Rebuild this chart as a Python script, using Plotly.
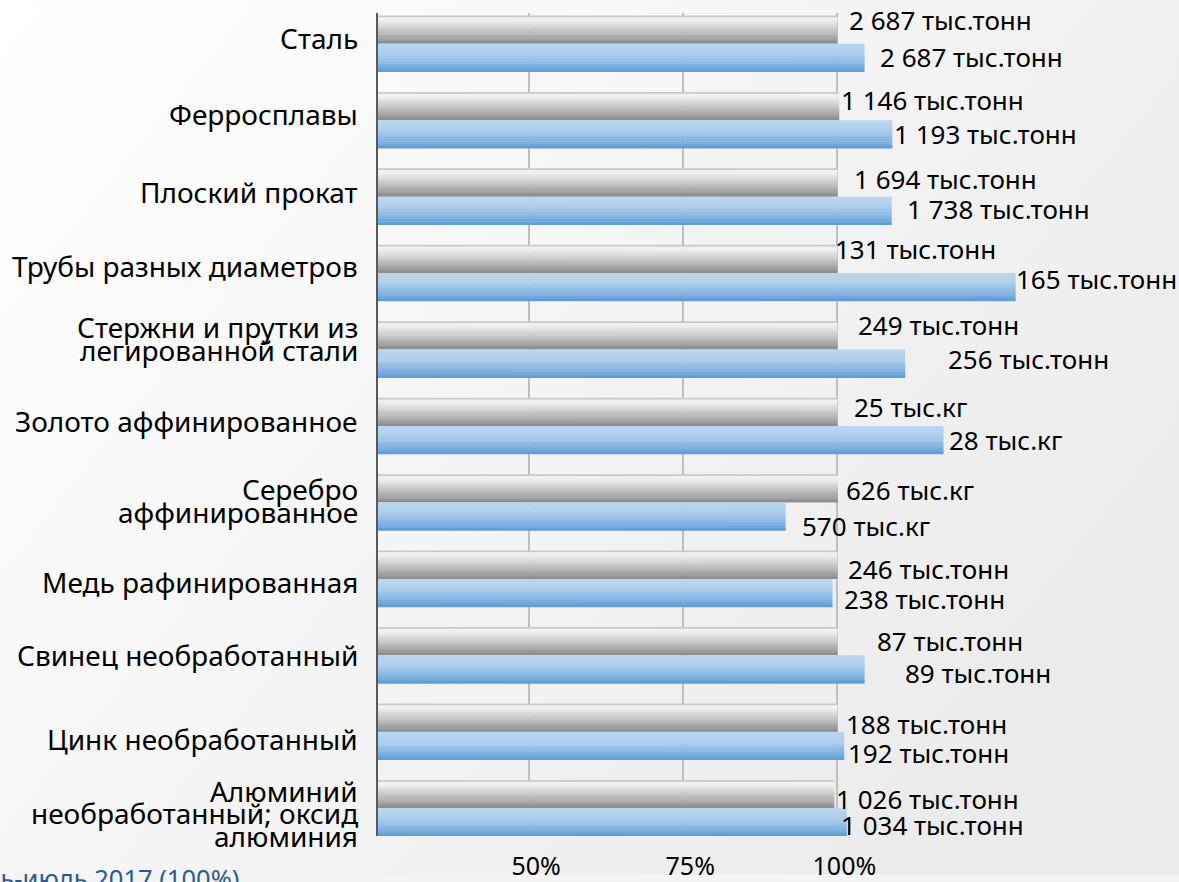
import base64
import plotly.graph_objects as go

# ---------------- data ----------------
categories = [
    "Сталь",
    "Ферросплавы",
    "Плоский прокат",
    "Трубы разных диаметров",
    "Стержни и прутки из\nлегированной стали",
    "Золото аффинированное",
    "Серебро\nаффинированное",
    "Медь рафинированная",
    "Свинец необработанный",
    "Цинк необработанный",
    "Алюминий\nнеобработанный; оксид\nалюминия",
]
series_names = ["январь-июль 2017 (100%)", "январь-июль 2018"]
base_pct = [100.0, 100.3, 100.0, 100.0, 100.0, 100.0, 100.1, 100.0, 100.0, 100.0, 99.5]
curr_pct = [104.4, 108.9, 108.8, 128.9, 111.0, 117.2, 91.6, 99.2, 104.4, 101.1, 101.5]
base_labels = ["2 687 тыс.тонн", "1 146 тыс.тонн", "1 694 тыс.тонн", "131 тыс.тонн",
               "249 тыс.тонн", "25 тыс.кг", "626 тыс.кг", "246 тыс.тонн",
               "87 тыс.тонн", "188 тыс.тонн", "1 026 тыс.тонн"]
curr_labels = ["2 687 тыс.тонн", "1 193 тыс.тонн", "1 738 тыс.тонн", "165 тыс.тонн",
               "256 тыс.тонн", "28 тыс.кг", "570 тыс.кг", "238 тыс.тонн",
               "89 тыс.тонн", "192 тыс.тонн", "1 034 тыс.тонн"]
tick_vals = [50, 75, 100]
tick_text = ["50%", "75%", "100%"]

# ---------------- style ----------------
W, H = 1179, 882
ML, MR, MT, MB = 378, 0, 13, 39
PW, PH = W - ML - MR, H - MT - MB
X_RANGE = [25.5, 155.4]
Y_RANGE = [10.363, -0.402]
BAR_W = 0.37
N_STRIPES = 16
FONT = "Noto Sans"
VAL_SIZE = 26
CAT_SIZE = 28

# label nudges (px), as placed in the original slide
base_dx = [10, 0, 15, -4, 19, 15, 6, 9, 38, 7, 0]
base_dy = [-10, -6, -3, -10, -10, -5, 2, 4, 0, 6, 5]
curr_dx = [13, 0, 13, -2, 41, 4, 14, 10, 38, 2, -8]
curr_dy = [-1, 0, -2, -8, -5, 0, 9, 6, 4, 7, 3]
cat_dy = [-6, -6, -5, -7, -11, -5, -2, 3, 0, 7, 5]
CAT_LINE = 22.5

gray_stops = [(0.0, (168, 168, 168)), (0.07, (242, 242, 242)), (0.18, (238, 238, 238)),
              (0.55, (196, 196, 196)), (1.0, (138, 138, 138))]
blue_stops = [(0.0, (186, 214, 239)), (0.35, (174, 206, 236)), (0.7, (134, 182, 227)),
              (1.0, (90, 155, 213))]


def interp(stops, t):
    for (t0, c0), (t1, c1) in zip(stops[:-1], stops[1:]):
        if t0 <= t <= t1:
            f = (t - t0) / (t1 - t0) if t1 > t0 else 0
            c = [round(a + (b - a) * f) for a, b in zip(c0, c1)]
            return "rgb(%d,%d,%d)" % tuple(c)
    return "rgb(%d,%d,%d)" % stops[-1][1]


ycats = [c.replace("\n", " ") for c in categories]

fig = go.Figure()

for series, vals, stops, start in [
    (0, base_pct, gray_stops, -BAR_W),
    (1, curr_pct, blue_stops, 0.0),
]:
    step = BAR_W / N_STRIPES
    for k in range(N_STRIPES):
        t = (k + 0.5) / N_STRIPES
        w = step * 1.25 if k < N_STRIPES - 1 else step
        fig.add_trace(go.Bar(
            y=ycats, x=vals, orientation="h",
            offset=start + k * step, width=w,
            marker=dict(color=interp(stops, t), line=dict(width=0)),
            name=series_names[series], showlegend=False, hoverinfo="skip",
        ))

annotations = []
# value labels
for i in range(len(categories)):
    annotations.append(dict(
        x=base_pct[i], y=i - BAR_W / 2, xref="x", yref="y", text=base_labels[i],
        showarrow=False, xanchor="left", yanchor="middle",
        xshift=base_dx[i], yshift=-base_dy[i],
        font=dict(family=FONT, size=VAL_SIZE, color="#000000")))
    annotations.append(dict(
        x=curr_pct[i], y=i + BAR_W / 2, xref="x", yref="y", text=curr_labels[i],
        showarrow=False, xanchor="left", yanchor="middle",
        xshift=curr_dx[i], yshift=-curr_dy[i],
        font=dict(family=FONT, size=VAL_SIZE, color="#000000")))

# category labels (tight line spacing)
for i, c in enumerate(categories):
    lines = c.split("\n")
    n = len(lines)
    for k, ln in enumerate(lines):
        off = (k - (n - 1) / 2) * CAT_LINE + cat_dy[i]
        annotations.append(dict(
            x=0, y=i, xref="paper", yref="y", text=ln, showarrow=False,
            xanchor="right", yanchor="middle", xshift=-18, yshift=-off,
            font=dict(family=FONT, size=CAT_SIZE, color="#000000")))

# legend remnant (cropped in original)
annotations.append(dict(
    x=(241 - ML) / PW, y=1 - (885 - MT) / PH, xref="paper", yref="paper",
    text=series_names[0], showarrow=False, xanchor="right", yanchor="middle",
    font=dict(family=FONT, size=25.5, color="#2b5d8c")))

svg = ('<svg xmlns="http://www.w3.org/2000/svg" width="%d" height="%d">'
       '<defs><linearGradient id="g" x1="0" y1="0" x2="1" y2="0.6">'
       '<stop offset="0" stop-color="#ffffff"/><stop offset="0.35" stop-color="#f8f8f8"/>'
       '<stop offset="1" stop-color="#ebebeb"/></linearGradient></defs>'
       '<rect width="%d" height="%d" fill="url(#g)"/></svg>') % (W, H, W, H)
bg_src = "data:image/svg+xml;base64," + base64.b64encode(svg.encode()).decode()

fig.update_layout(
    width=W, height=H,
    margin=dict(l=ML, r=MR, t=MT, b=MB, pad=0),
    barmode="overlay",
    paper_bgcolor="#f4f4f4",
    plot_bgcolor="rgba(0,0,0,0)",
    showlegend=False,
    hovermode=False,
    annotations=annotations,
    images=[dict(source=bg_src, xref="paper", yref="paper",
                 x=-ML / PW, y=1 + MT / PH, sizex=W / PW, sizey=H / PH,
                 xanchor="left", yanchor="top", sizing="stretch", layer="below")],
    xaxis=dict(range=X_RANGE, tickvals=tick_vals, ticktext=tick_text,
               showgrid=True, gridcolor="#bfbfbf", gridwidth=1.5,
               zeroline=False, showline=False,
               ticks="outside", ticklen=8, tickcolor="rgba(0,0,0,0)",
               ticklabelshift=7,
               tickfont=dict(family=FONT, size=25, color="#000000")),
    yaxis=dict(type="category", categoryorder="array", categoryarray=ycats,
               range=Y_RANGE, showticklabels=False, showgrid=False,
               zeroline=False, showline=True, linecolor="#595959", linewidth=2,
               ticks=""),
)

fig.write_html(
    "out.html",
    config={"displayModeBar": False},
    post_script="document.body.style.margin='0';document.body.style.overflow='hidden';",
)
